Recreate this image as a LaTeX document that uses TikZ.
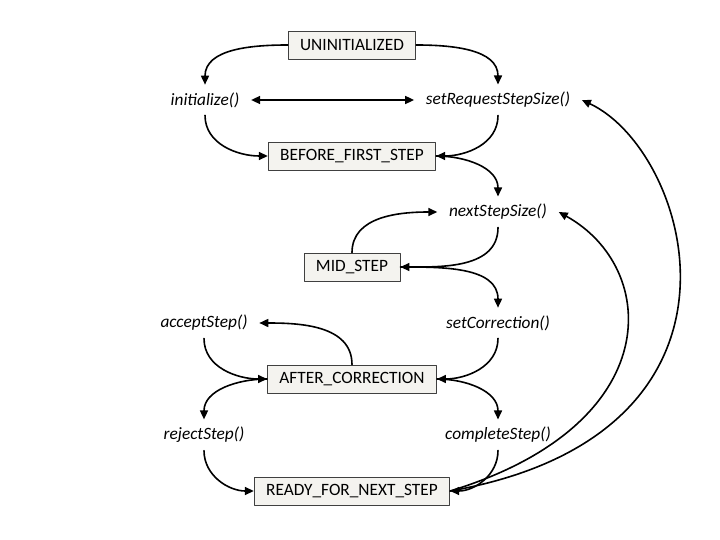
\documentclass[tikz,border=0pt]{standalone}
\usepackage{fontspec}
\setmainfont{Carlito}
\usetikzlibrary{arrows.meta}
\definecolor{stfill}{RGB}{244,243,239}
\tikzset{
	state/.style={draw=black!75, line width=0.8pt, fill=stfill, minimum height=28pt, inner xsep=12pt, font=\fontsize{17.3}{20}\selectfont},
	call/.style={inner xsep=11pt, inner ysep=7pt, font=\fontsize{17.3}{20}\selectfont\itshape},
}
\begin{document}
\begin{tikzpicture}[x=1pt,y=1pt,line join=round,line cap=round,>={Triangle[length=9pt,width=8pt]},line width=1.6pt]
	\useasboundingbox (0,0) rectangle (720,-540);
	% states
	\node[state] (uninit) at (352,-45) {UNINITIALIZED};
	\node[state] (before) at (352,-156) {BEFORE\_FIRST\_STEP};
	\node[state] (mid) at (352,-267) {MID\_STEP};
	\node[state] (after) at (352,-379) {AFTER\_CORRECTION};
	\node[state] (ready) at (352,-491) {READY\_FOR\_NEXT\_STEP};
	% calls
	\node[call] (init) at (205,-100) {initialize()};
	\node[call] (setreq) at (498,-100) {setRequestStepSize()};
	\node[call] (next) at (498,-212) {nextStepSize()};
	\node[call] (setcorr) at (498,-323) {setCorrection()};
	\node[call] (accept) at (204,-323) {acceptStep()};
	\node[call] (reject) at (204,-435) {rejectStep()};
	\node[call] (complete) at (498,-435) {completeStep()};
	% transitions
	\draw[->] (uninit.west) to[out=180,in=90] (init.north);
	\draw[->] (uninit.east) to[out=0,in=90] (setreq.north);
	\draw[<->] (init) -- (setreq);
	\draw[->] (init.south) to[out=-90,in=180] (before.west);
	\draw[->] (setreq.south) to[out=-90,in=0] (before.east);
	\draw[->] (before.east) to[out=0,in=90] (next.north);
	\draw[->] (mid.north) to[out=90,in=180] (next.west);
	\draw[->] (next.south) to[out=-90,in=0] (mid.east);
	\draw[->] (mid.east) to[out=0,in=90] (setcorr.north);
	\draw[->] (setcorr.south) to[out=-90,in=0] (after.east);
	\draw[->] (after.north) to[out=90,in=0] (accept.east);
	\draw[->] (accept.south) to[out=-90,in=180] (after.west);
	\draw[->] (after.west) to[out=180,in=90] (reject.north);
	\draw[->] (after.east) to[out=0,in=90] (complete.north);
	\draw[->] (reject.south) to[out=-90,in=180] (ready.west);
	\draw[->] (complete.south) to[out=-90,in=0] (ready.east);
	% back to the top
	\draw[->] (ready.east) .. controls +(17:228) and +(-29:115) .. (next.east);
	\draw[->] (ready.east) .. controls +(10:330) and +(-25:120) .. (setreq.east);
\end{tikzpicture}
\end{document}
